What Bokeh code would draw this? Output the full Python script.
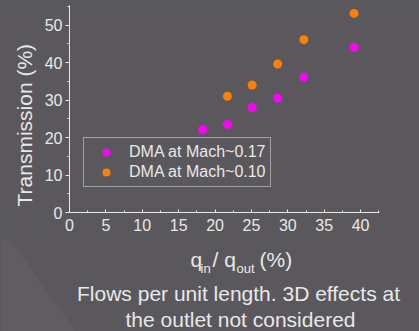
from bokeh.plotting import figure
from bokeh.models import Range1d, FixedTicker, Legend, LegendItem
from bokeh.layouts import column, row
from bokeh.core.properties import value
from bokeh.embed import file_html
from bokeh.resources import INLINE
import math

# data
q_ratio = [18.3, 21.7, 25.1, 28.6, 32.2, 39.1]
trans_m017 = [22.1, 23.5, 28.0, 30.5, 36.1, 44.0]
q_ratio_010 = [21.7, 25.1, 28.6, 32.2, 39.1]
trans_m010 = [31.0, 34.0, 39.6, 46.1, 53.1]
series_names = ["DMA at Mach~0.17", "DMA at Mach~0.10"]
x_ticks = [0, 5, 10, 15, 20, 25, 30, 35, 40]
y_ticks = [0, 10, 20, 30, 40, 50]
y_title = "Transmission (%)"
caption = ["Flows per unit length. 3D effects at", "the outlet not considered"]

BG = "#5a585d"
FG = "#e8e8e8"
FONT = "Liberation Sans"
STY = {"background-color": BG}

TOP_H = 240
LEFT_W = 40
BOT_H = 331 - TOP_H


def blank(w, h):
    f = figure(width=w, height=h, output_backend="svg", toolbar_location=None,
               x_range=Range1d(0, w), y_range=Range1d(0, h),
               x_axis_type=None, y_axis_type=None, title=None,
               min_border=0, styles=STY)
    f.background_fill_color = BG
    f.border_fill_color = BG
    f.outline_line_color = None
    f.grid.visible = False
    return f


# main plot
p = figure(width=419 - LEFT_W, height=TOP_H, output_backend="svg", toolbar_location=None,
           x_range=Range1d(0, 42.6), y_range=Range1d(0, 55.2), title=None,
           min_border_left=69 - LEFT_W, min_border_right=40, min_border_top=5,
           min_border_bottom=TOP_H - 212, styles=STY)
p.background_fill_color = BG
p.border_fill_color = BG
p.outline_line_color = None
p.grid.visible = False

xa = p.xaxis[0]
ya = p.yaxis[0]
xa.ticker = FixedTicker(ticks=x_ticks, minor_ticks=[v + 2.5 for v in x_ticks])
ya.ticker = FixedTicker(ticks=y_ticks, minor_ticks=[v + 5 for v in y_ticks])
for ax in (xa, ya):
    ax.axis_line_color = FG
    ax.major_tick_line_color = FG
    ax.minor_tick_line_color = FG
    ax.major_label_text_color = FG
    ax.major_label_text_font = FONT
    ax.major_label_text_font_size = "16px"
xa.major_tick_in = 3
xa.major_tick_out = 0
xa.minor_tick_in = 2
xa.minor_tick_out = 0
xa.major_label_standoff = 6
ya.major_tick_in = 0
ya.major_tick_out = 4
ya.minor_tick_in = 0
ya.minor_tick_out = 2
ya.major_label_standoff = 3

r1 = p.scatter(q_ratio, trans_m017, size=9, color="#ff00ff", line_color=None)
r2 = p.scatter(q_ratio_010, trans_m010, size=9, color="#ff8000", line_color=None)

legend = Legend(items=[LegendItem(label=series_names[0], renderers=[r1]),
                       LegendItem(label=series_names[1], renderers=[r2])],
                location=(14, 25), padding=4, spacing=0, margin=0,
                glyph_width=36, glyph_height=20, label_height=20, label_standoff=5,
                label_text_font=FONT, label_text_font_size="16px", label_text_color=FG,
                border_line_color=FG, border_line_width=1, background_fill_alpha=0)
p.add_layout(legend)

# left strip with the y title
left = blank(LEFT_W, TOP_H)
left.text(x=[24], y=[TOP_H - 233], text=[y_title], angle=math.pi / 2,
          text_font=value(FONT), text_font_size="21px", text_color=FG,
          text_align="left", text_baseline="middle")

# bottom strip with x title and caption
bottom = blank(419, BOT_H)
bottom.patch(x=[0, 10.6, 75, 0], y=[BOT_H, BOT_H, 0, 0], color="white", fill_alpha=0.03,
             line_color=None)


def t(txt, x, y_px, size, align="left"):
    bottom.text(x=[x], y=[331 - y_px], text=[txt], text_font=value(FONT),
                text_font_size=size, text_color=FG, text_align=align,
                text_baseline="alphabetic")


t("q", 190, 259, "21px")
t("in", 200, 268, "13px")
t("/ q", 212, 259, "21px")
t("out", 236, 268, "13px")
t("(%)", 259, 259, "21px")
t(caption[0], 238, 293, "21px", align="center")
t(caption[1], 240, 319, "21px", align="center")

layout = column(row(left, p, spacing=0, styles=STY), bottom, spacing=0, styles=STY)
open("out.html", "w").write(file_html(layout, INLINE))
